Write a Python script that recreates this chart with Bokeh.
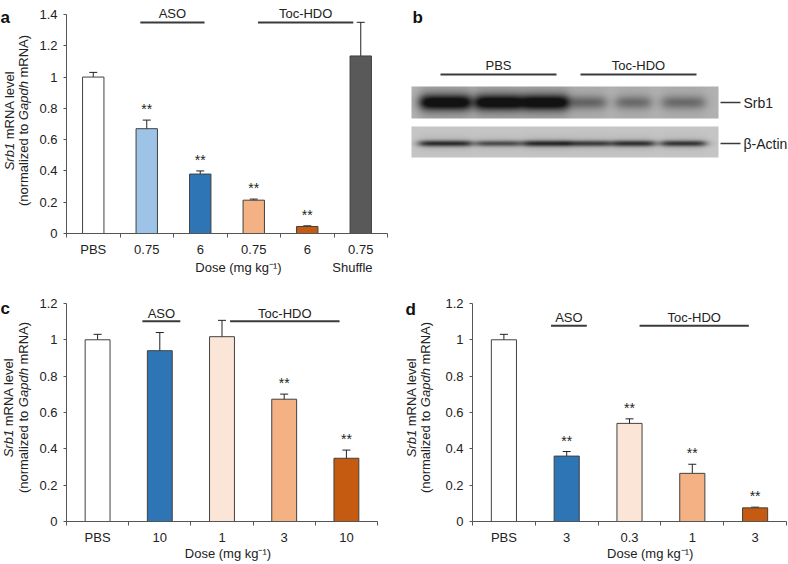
import numpy as np
from math import pi
from bokeh.plotting import figure
from bokeh.models import Range1d, FixedTicker, Label, Whisker, TeeHead, ColumnDataSource
from bokeh.layouts import column, row
from bokeh.embed import file_html
from bokeh.resources import INLINE
from bokeh.core.properties import value

FONT = "Liberation Sans"
TXT = "#222222"
AXC = "#555555"
EDGE = "#404040"

# ---------------- data ----------------
a_labels = ["PBS", "0.75", "6", "0.75", "6", "0.75"]
a_values = [1.0, 0.67, 0.38, 0.213, 0.045, 1.135]
a_errors = [0.03, 0.055, 0.02, 0.007, 0.004, 0.215]
a_colors = ["#FFFFFF", "#9DC3E6", "#2E75B6", "#F4B183", "#C55A11", "#595959"]
a_stars = ["", "**", "**", "**", "**", ""]
a_yticks = [0, 0.2, 0.4, 0.6, 0.8, 1, 1.2, 1.4]
a_yticklabels = ["0", "0.2", "0.4", "0.6", "0.8", "1", "1.2", "1.4"]
a_groups = ["ASO", "Toc-HDO"]
a_group_spans = [(1.38, 2.58), (3.58, 5.36)]

c_labels = ["PBS", "10", "1", "3", "10"]
c_values = [1.0, 0.94, 1.017, 0.673, 0.348]
c_errors = [0.03, 0.10, 0.09, 0.028, 0.045]
c_colors = ["#FFFFFF", "#2E75B6", "#FBE5D6", "#F4B183", "#C55A11"]
c_stars = ["", "", "", "**", "**"]
c_groups = ["ASO", "Toc-HDO"]
c_group_spans = [(1.22, 1.83), (2.63, 4.39)]

d_labels = ["PBS", "3", "0.3", "1", "3"]
d_values = [1.0, 0.36, 0.54, 0.265, 0.075]
d_errors = [0.03, 0.025, 0.025, 0.05, 0.004]
d_colors = ["#FFFFFF", "#2E75B6", "#FBE5D6", "#F4B183", "#C55A11"]
d_stars = ["", "**", "**", "**", "**"]
d_groups = ["ASO", "Toc-HDO"]
d_group_spans = [(1.25, 1.82), (2.66, 4.40)]

cd_yticks = [0, 0.2, 0.4, 0.6, 0.8, 1, 1.2]
cd_yticklabels = ["0", "0.2", "0.4", "0.6", "0.8", "1", "1.2"]

x_title = "Dose (mg kg⁻¹)"

b_groups = ["PBS", "Toc-HDO"]
b_srb1_strength = [1.0, 1.0, 1.0, 0.40, 0.37, 0.37]
b_actin_strength = [0.78, 0.62, 0.80, 0.70, 0.76, 0.74]
b_proteins = ["Srb1", "β-Actin"]

# ---------------- helpers ----------------
CW = {' ': 278, '(': 333, ')': 333, '1': 556, 'A': 667, 'D': 722, 'G': 778, 'N': 722,
      'R': 722, 'S': 667, 'a': 556, 'b': 556, 'd': 556, 'e': 556, 'g': 556, 'h': 556,
      'i': 222, 'k': 500, 'l': 222, 'm': 833, 'n': 556, 'o': 556, 'p': 556, 'r': 333,
      's': 500, 't': 278, 'v': 500, 'z': 500}


def tw(s, size):
    return sum(CW.get(ch, 556) for ch in s) / 1000.0 * size


class Frame:
    def __init__(self, FL, FT, FW, FH, xr, yr):
        self.FL, self.FT, self.FW, self.FH = FL, FT, FW, FH
        self.x0, self.x1 = xr
        self.y0, self.y1 = yr

    def x(self, px):
        return self.x0 + (px - self.FL) / self.FW * (self.x1 - self.x0)

    def y(self, py):
        return self.y1 - (py - self.FT) / self.FH * (self.y1 - self.y0)

    def px(self, xd):
        return self.FL + (xd - self.x0) / (self.x1 - self.x0) * self.FW


def lab(p, fr, px, py, text, size=13, style="normal", align="left",
        baseline="alphabetic", angle=0.0, color=TXT):
    p.add_layout(Label(x=fr.x(px), y=fr.y(py), x_units="data", y_units="data",
                       text=text, text_font=FONT, text_font_size=f"{size}px",
                       text_font_style=style, text_align=align,
                       text_baseline=baseline, angle=angle, text_color=color))


def strip(W, H):
    p = figure(width=W, height=H, x_range=Range1d(0, W), y_range=Range1d(0, H),
               output_backend="svg", toolbar_location=None,
               x_axis_location=None, y_axis_location=None,
               min_border_left=0, min_border_right=0, min_border_top=0, min_border_bottom=0)
    p.outline_line_color = None
    p.grid.visible = False
    p.background_fill_color = "white"
    p.border_fill_color = "white"
    return p, Frame(0, 0, W, H, (0, W), (0, H))


def ylabel(p, fr, x1, x2, cy):
    lines = [(x1, [("Srb1", "italic"), (" mRNA level", "normal")]),
             (x2, [("(normalized to ", "normal"), ("Gapdh", "italic"), (" mRNA)", "normal")])]
    for x, pieces in lines:
        total = sum(tw(t, 13) for t, _ in pieces)
        pos = cy + total / 2
        for t, st in pieces:
            lead = len(t) - len(t.lstrip(" "))
            lab(p, fr, x, pos - tw(" " * lead, 13), t.strip(), style=st,
                angle=pi / 2, baseline="middle")
            pos -= tw(t, 13)


def bar_panel(strip_w, W, H, FL, FR, FT, axis_top, axis_bot, bottom_h,
              labels, values, errors, colors, stars, yticks, yticklabels,
              groups, spans, line_py, text_py,
              letter, letter_xy, ylab_x, ylab_cy, dose_xy, extra=None):
    n = len(labels)
    ymax = yticks[-1]
    FB = H - axis_bot
    FW = W - FL - FR
    FH = axis_bot - FT
    ppu = (axis_bot - axis_top) / ymax
    y_end = ymax + (axis_top - FT) / ppu
    p = figure(width=W, height=H, x_range=Range1d(0, n), y_range=Range1d(0, y_end),
               output_backend="svg", toolbar_location=None,
               min_border_left=FL, min_border_right=FR,
               min_border_top=FT, min_border_bottom=FB)
    fr = Frame(FL, FT, FW, FH, (0, n), (0, y_end))
    p.outline_line_color = None
    p.grid.visible = False
    p.background_fill_color = "white"
    p.border_fill_color = "white"

    centres = [i + 0.5 for i in range(n)]
    p.yaxis.ticker = FixedTicker(ticks=yticks)
    p.yaxis.major_label_overrides = {t: l for t, l in zip(yticks, yticklabels)}
    p.yaxis.bounds = (0, ymax)
    p.xaxis.ticker = FixedTicker(ticks=centres, minor_ticks=list(range(n + 1)))
    p.xaxis.major_label_overrides = {c: l for c, l in zip(centres, labels)}
    p.xaxis.major_tick_out = 0
    p.xaxis.major_tick_in = 0
    p.xaxis.minor_tick_out = 4
    p.xaxis.minor_tick_in = 0
    p.yaxis.major_tick_out = 3
    p.yaxis.major_tick_in = 0
    p.yaxis.minor_tick_out = 0
    p.yaxis.minor_tick_in = 0
    p.yaxis.major_label_standoff = 6
    p.xaxis.major_label_standoff = 4
    for ax in (p.xaxis, p.yaxis):
        ax.axis_line_color = AXC
        ax.major_tick_line_color = AXC
        ax.minor_tick_line_color = AXC
        ax.major_label_text_font = FONT
        ax.major_label_text_font_size = "13px"
        ax.major_label_text_color = TXT

    src = ColumnDataSource(dict(
        x=centres, top=values, color=colors,
        upper=[v + e for v, e in zip(values, errors)],
        lower=[v - e for v, e in zip(values, errors)],
        star=stars))
    p.vbar(x="x", top="top", width=0.4, source=src, fill_color="color",
           line_color=EDGE, line_width=1)
    p.add_layout(Whisker(source=src, base="x", upper="upper", lower="lower",
                         line_color="#222222", line_width=1,
                         upper_head=TeeHead(size=8, line_color="#222222", line_width=1),
                         lower_head=TeeHead(size=8, line_color="#222222", line_width=1)))
    p.text(x="x", y="upper", text="star", source=src, text_align="center",
           text_baseline="alphabetic", y_offset=-11, text_font=value(FONT),
           text_font_size="14px", text_color=TXT)

    gy = fr.y(line_py)
    p.segment(x0=[s[0] for s in spans], x1=[s[1] for s in spans], y0=[gy] * len(spans),
              y1=[gy] * len(spans), line_color="#3a3a3a", line_width=2)
    for g, s in zip(groups, spans):
        lab(p, fr, fr.px((s[0] + s[1]) / 2), text_py, g, align="center", baseline="middle")

    # left strip: panel letter + y-axis title
    ls, frl = strip(strip_w, H + bottom_h)
    lab(ls, frl, letter_xy[0], letter_xy[1], letter, size=17, style="bold", color="#111111")
    ylabel(ls, frl, ylab_x[0], ylab_x[1], ylab_cy)

    # bottom strip: x-axis title (+ extra line labels)
    bs, frb_ = strip(W, bottom_h)
    lab(bs, frb_, dose_xy[0], dose_xy[1], x_title, align="center", baseline="middle")
    if extra:
        for txt, xd in extra:
            lab(bs, frb_, fr.px(xd), dose_xy[1], txt, align="center", baseline="middle")
    return row(ls, column(p, bs))


# ---------------- panel a ----------------
panel_a = bar_panel(36, 364, 259, 30, 13, 2, 14, 233, 27,
                    a_labels, a_values, a_errors, a_colors, a_stars,
                    a_yticks, a_yticklabels, a_groups, a_group_spans, 22, 13.3,
                    "a", (0, 17), (9, 23), 120, (195, 8),
                    extra=[("Shuffle", 5.5)])

# ---------------- panel c ----------------
panel_c = bar_panel(36, 364, 261, 28, 23, 5, 17, 236, 15,
                    c_labels, c_values, c_errors, c_colors, c_stars,
                    cd_yticks, cd_yticklabels, c_groups, c_group_spans, 35, 27,
                    "c", (0, 22), (8, 23), 121, (189, 5.5))

# ---------------- panel d ----------------
panel_d = bar_panel(40, 348, 261, 32, 2, 5, 17, 236, 15,
                    d_labels, d_values, d_errors, d_colors, d_stars,
                    cd_yticks, cd_yticklabels, d_groups, d_group_spans, 39.5, 31,
                    "d", (5, 22.7), (11, 25), 121, (197, 5.5))

# ---------------- panel b (western blot) ----------------
BW, BH = 388, 286
pb, frb = strip(BW, BH)

lane_c = [45, 98, 145, 188, 233, 283]
lane_w_srb = [50, 46, 46, 34, 34, 42]
lane_w_act = [52, 44, 44, 44, 42, 44]


def blot(x_left, width, y_top, height, strengths, widths, band_y, sigma, bg, smear):
    xs = x_left + np.arange(width) + 0.5
    ys = y_top + np.arange(height) + 0.5
    dark = np.zeros((height, width))
    for c, w, s in zip(lane_c, widths, strengths):
        fx = 1.0 / (1.0 + np.exp((np.abs(xs - c) - w / 2.0) / 3.0))
        sg = sigma * (0.75 + 0.25 * s)
        fy = np.exp(-((ys - band_y) / sg) ** 2)
        dark += s * np.outer(fy, fx)
        dark += smear * s * np.outer(np.exp(-((ys - band_y) / (sg * 2.6)) ** 2), fx)
    dark = np.clip(dark, 0, 1)
    val = (bg - (bg - 18) * dark).astype(np.uint8)
    val = np.flipud(val)
    img = np.empty((height, width), dtype=np.uint32)
    v = img.view(dtype=np.uint8).reshape((height, width, 4))
    v[..., 0] = val
    v[..., 1] = val
    v[..., 2] = val
    v[..., 3] = 255
    return img


srb_img = blot(11, 307, 86, 32, b_srb1_strength, lane_w_srb, 102, 7.5, 178, 0.22)
act_img = blot(11, 307, 126, 31, b_actin_strength, lane_w_act, 143, 3.2, 198, 0.12)
pb.image_rgba(image=[srb_img], x=frb.x(11), y=frb.y(118), dw=307, dh=32)
pb.image_rgba(image=[act_img], x=frb.x(11), y=frb.y(157), dw=307, dh=31)

b_spans_px = [(40, 156), (180, 296)]
pb.segment(x0=[s[0] for s in b_spans_px], x1=[s[1] for s in b_spans_px],
           y0=[frb.y(74)] * 2, y1=[frb.y(74)] * 2, line_color="#3a3a3a", line_width=2)
for g, s in zip(b_groups, b_spans_px):
    lab(pb, frb, (s[0] + s[1]) / 2, 65, g, align="center", baseline="middle")
for name, py in zip(b_proteins, [102, 143]):
    pb.segment(x0=[320], x1=[340], y0=[frb.y(py)], y1=[frb.y(py)],
               line_color="#3a3a3a", line_width=1.5)
    lab(pb, frb, 343, py, name, size=14, baseline="middle")
lab(pb, frb, 12, 17, "b", size=17, style="bold", color="#111111")

layout = column(row(panel_a, pb), row(panel_c, panel_d))
open("out.html", "w").write(file_html(layout, INLINE))
